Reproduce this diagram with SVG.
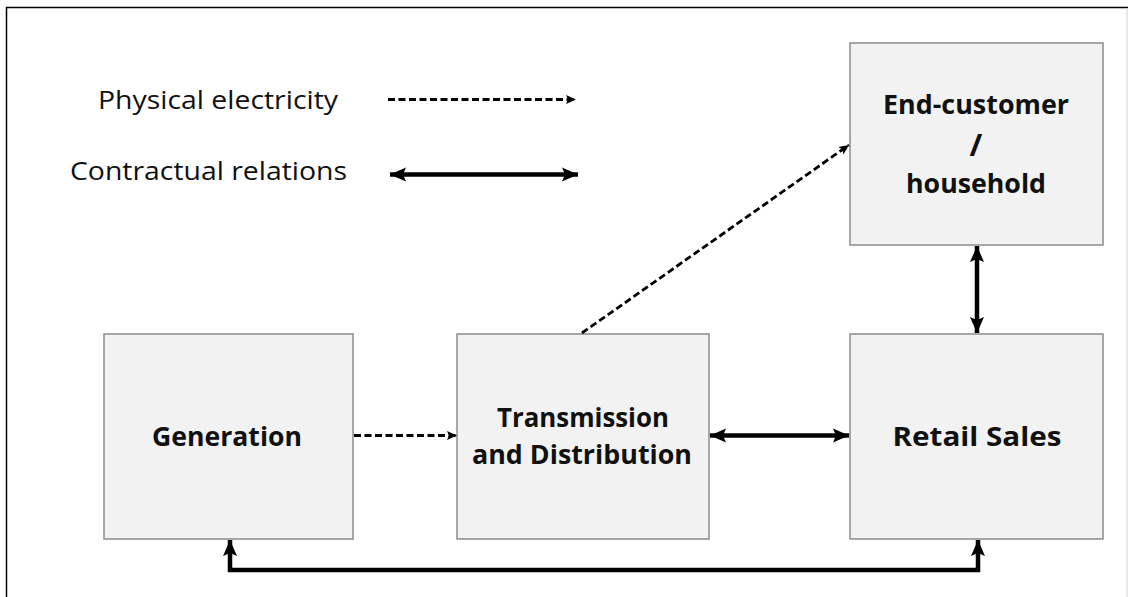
<svg xmlns="http://www.w3.org/2000/svg" width="1132" height="597" viewBox="0 0 1132 597">
  <style>
    .box { fill: #f2f2f2; stroke: #8c8c8c; stroke-width: 1.5; }
    .lbl { font-family: "Open Sans", Lato, "Liberation Sans", sans-serif; font-weight: bold; font-size: 27px; fill: #111; text-anchor: middle; }
    .leg { font-family: "Open Sans", Lato, "Liberation Sans", sans-serif; font-size: 25.5px; fill: #111; }
    .phys { fill: none; stroke: #000; stroke-width: 2.8; stroke-dasharray: 7 3.5; }
    .contr { fill: none; stroke: #000; stroke-width: 4.5; }
  </style>
  <defs>
    <marker id="ah-small" markerUnits="userSpaceOnUse" markerWidth="11" markerHeight="10" refX="10" refY="4.5" orient="auto-start-reverse" viewBox="0 0 11 9">
      <path d="M0,0 L10,4.5 L0,9 L2,4.5 z" fill="#000"/>
    </marker>
    <marker id="ah-big" markerUnits="userSpaceOnUse" markerWidth="17" markerHeight="15" refX="16" refY="7.5" orient="auto-start-reverse" viewBox="0 0 17 15">
      <path d="M0,0.5 L16,7.5 L0,14.5 L3,7.5 z" fill="#000"/>
    </marker>
  </defs>

  <!-- outer frame -->
  <g id="frame">
    <line x1="6.5" y1="7" x2="6.5" y2="597" stroke="#000" stroke-width="1.5"/>
    <line x1="6" y1="7.5" x2="1128" y2="7.5" stroke="#000" stroke-width="1.5"/>
    <line x1="1127" y1="8" x2="1127" y2="597" stroke="#d0d0d0" stroke-width="1"/>
  </g>

  <!-- legend -->
  <g id="legend">
    <text class="leg" x="98" y="109" textLength="240" lengthAdjust="spacingAndGlyphs">Physical electricity</text>
    <text class="leg" x="70" y="180" textLength="277" lengthAdjust="spacingAndGlyphs">Contractual relations</text>
    <line class="phys" x1="388" y1="99.5" x2="576" y2="99.5" marker-end="url(#ah-small)"/>
    <line class="contr" x1="390" y1="174.5" x2="578" y2="174.5" marker-start="url(#ah-big)" marker-end="url(#ah-big)"/>
  </g>

  <!-- nodes -->
  <g id="generation">
    <rect class="box" x="104" y="334" width="249" height="205"/>
    <text class="lbl" x="227" y="446" textLength="150" lengthAdjust="spacingAndGlyphs">Generation</text>
  </g>
  <g id="transmission">
    <rect class="box" x="457" y="334" width="252" height="205"/>
    <text class="lbl" x="583" y="427" textLength="172" lengthAdjust="spacingAndGlyphs">Transmission</text>
    <text class="lbl" x="582" y="464" textLength="220" lengthAdjust="spacingAndGlyphs">and Distribution</text>
  </g>
  <g id="retail">
    <rect class="box" x="850" y="334" width="253" height="205"/>
    <text class="lbl" x="977" y="446" textLength="169" lengthAdjust="spacingAndGlyphs">Retail Sales</text>
  </g>
  <g id="endcustomer">
    <rect class="box" x="850" y="43" width="253" height="202"/>
    <text class="lbl" x="976" y="114" textLength="186" lengthAdjust="spacingAndGlyphs">End-customer</text>
    <text class="lbl" x="976" y="156" style="font-size:31px">/</text>
    <text class="lbl" x="976" y="193" textLength="140" lengthAdjust="spacingAndGlyphs">household</text>
  </g>

  <!-- connectors -->
  <g id="connectors">
    <line class="phys" x1="354" y1="435.5" x2="457" y2="435.5" marker-end="url(#ah-small)"/>
    <line class="phys" x1="582" y1="333" x2="849" y2="145" marker-end="url(#ah-small)"/>
    <line class="contr" x1="710" y1="435.5" x2="849" y2="435.5" marker-start="url(#ah-big)" marker-end="url(#ah-big)"/>
    <line class="contr" x1="977" y1="246" x2="977" y2="333" marker-start="url(#ah-big)" marker-end="url(#ah-big)"/>
    <path class="contr" d="M230,540 V570 H978 V540" marker-start="url(#ah-big)" marker-end="url(#ah-big)"/>
  </g>
</svg>
